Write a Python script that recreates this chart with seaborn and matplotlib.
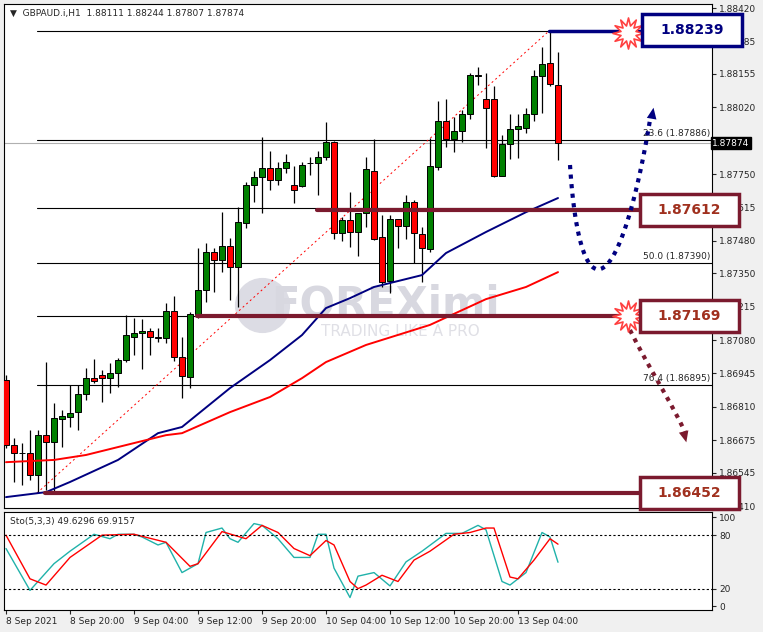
import matplotlib
matplotlib.use("Agg")
import matplotlib.pyplot as plt
import seaborn as sns
import pandas as pd
import numpy as np
from matplotlib.patches import Rectangle

sns.set_style("white")
plt.rcParams['font.family'] = ['DejaVu Sans']

opens = [1.86918,1.86656,1.86624,1.86624,1.86535,1.86696,1.86668,1.86761,1.86769,1.86789,
 1.86862,1.86926,1.86939,1.86926,1.86947,1.86999,1.87092,1.87108,1.87116,1.87092,
 1.87088,1.87197,1.87011,1.86930,1.87185,1.87282,1.87435,1.87403,1.87459,1.87374,
 1.87552,1.87705,1.87738,1.87774,1.87726,1.87774,1.87705,1.87701,1.87794,1.87794,
 1.87818,1.87879,1.87512,1.87564,1.87516,1.87592,1.87762,1.87495,1.87318,1.87568,
 1.87540,1.87637,1.87508,1.87447,1.87778,1.87964,1.87891,1.87923,1.87992,1.88145,
 1.88052,1.88052,1.87742,1.87871,1.87931,1.87935,1.87992,1.88145,1.88198,1.88111]
highs = [1.86939,1.86684,1.86664,1.86717,1.86717,1.86991,1.86826,1.86797,1.86898,1.86898,
 1.86967,1.87003,1.86959,1.86987,1.87007,1.87181,1.87169,1.87165,1.87128,1.87128,
 1.87229,1.87257,1.87092,1.87193,1.87451,1.87471,1.87451,1.87596,1.87491,1.87616,
 1.87717,1.87762,1.87899,1.87843,1.87798,1.87831,1.87782,1.87798,1.87818,1.87843,
 1.87960,1.87883,1.87576,1.87677,1.87592,1.87818,1.87891,1.87584,1.87584,1.87568,
 1.87665,1.87645,1.87536,1.87895,1.88044,1.88052,1.87980,1.88008,1.88157,1.88182,
 1.88157,1.88105,1.87907,1.87992,1.87992,1.88016,1.88170,1.88262,1.88327,1.88244]
lows = [1.86644,1.86507,1.86495,1.86515,1.86462,1.86474,1.86462,1.86648,1.86729,1.86717,
 1.86838,1.86906,1.86830,1.86866,1.86890,1.86991,1.87019,1.86963,1.87019,1.87072,
 1.87068,1.86995,1.86846,1.86886,1.87169,1.87233,1.87274,1.87354,1.87241,1.87213,
 1.87532,1.87637,1.87592,1.87685,1.87705,1.87754,1.87633,1.87697,1.87746,1.87665,
 1.87806,1.87487,1.87479,1.87455,1.87419,1.87536,1.87483,1.87294,1.87270,1.87451,
 1.87487,1.87391,1.87314,1.87435,1.87766,1.87859,1.87839,1.87879,1.87972,1.88109,
 1.87855,1.87738,1.87742,1.87810,1.87814,1.87915,1.87964,1.87996,1.88105,1.87807]
closes = [1.86656,1.86624,1.86624,1.86535,1.86696,1.86668,1.86765,1.86773,1.86785,1.86862,
 1.86926,1.86914,1.86926,1.86947,1.86999,1.87100,1.87108,1.87116,1.87092,1.87088,
 1.87197,1.87011,1.86935,1.87185,1.87282,1.87435,1.87403,1.87459,1.87374,1.87556,
 1.87705,1.87738,1.87774,1.87726,1.87774,1.87798,1.87685,1.87786,1.87794,1.87818,
 1.87879,1.87512,1.87564,1.87516,1.87592,1.87770,1.87487,1.87314,1.87568,1.87540,
 1.87637,1.87512,1.87451,1.87782,1.87964,1.87891,1.87923,1.87992,1.88149,1.88149,
 1.88016,1.87742,1.87871,1.87931,1.87943,1.87992,1.88145,1.88194,1.88113,1.87874]

ma_blue_idx = [0,5,8,14,19,22,28,33,37,40,43,46,52,55,60,65,69]
ma_blue = [1.86446,1.86466,1.86507,1.86596,1.86704,1.86729,1.86886,1.86999,1.87100,1.87209,
           1.87249,1.87294,1.87342,1.87431,1.87516,1.87596,1.87653]
ma_red_idx = [0,6,10,16,20,22,28,33,37,40,45,53,60,65,69]
ma_red = [1.86587,1.86596,1.86616,1.86664,1.86696,1.86704,1.86789,1.86850,1.86926,1.86991,
          1.87060,1.87141,1.87245,1.87294,1.87354]

sto_main_idx = [0,3,6,8,11,13,14,16,17,19,20,22,24,25,27,28,29,31,32,34,36,38,39,40,41,43,44,46,48,50,52,55,57,59,60,62,63,65,67,68,69]
sto_main = [65,18,48,62,81,76,81,81,78,69,72,38,48,83,88,76,72,93,91,76,55,55,81,81,43,10,34,38,23,50,62,82,82,91,86,28,24,38,83,78,49.6]
sto_sig_idx = [0,3,5,8,12,16,20,23,24,27,30,32,34,36,38,40,41,43,44,45,47,49,51,53,56,58,60,61,63,64,66,68,69]
sto_sig = [80,31,24,55,80,81,72,45,48,84,76,91,83,65,57,74,69,28,20,24,35,28,52,62,81,83,88,88,33,31,52,76,69.9]

time_labels = ["8 Sep 2021","8 Sep 20:00","9 Sep 04:00","9 Sep 12:00","9 Sep 20:00",
               "10 Sep 04:00","10 Sep 12:00","10 Sep 20:00","13 Sep 04:00"]
price_ticks = [1.88420,1.88285,1.88155,1.88020,1.87750,1.87615,1.87480,1.87350,1.87215,
               1.87080,1.86945,1.86810,1.86675,1.86545,1.86410]

W, H = 763, 632
fig = plt.figure(figsize=(W/100, H/100), dpi=100)
fig.patch.set_facecolor('#f0f0f0')

def py(y): return 1.884523 - 0.00004036*y
def px(x): return (x-6)/8

def fr(l, t, r, b):
    return [l/W, 1-b/H, (r-l)/W, (b-t)/H]

ax = fig.add_axes(fr(4, 4, 712, 508))
ax.set_facecolor('white')
ax.set_xlim(px(4), px(712)); ax.set_ylim(py(508), py(4))
fs = 6.5

# watermark
ax.scatter([px(262)], [py(305)], s=1500, color='#dcdce4', zorder=0)
ax.text(px(385), py(305), "FOREXimi", fontsize=30, fontweight='bold', color='#d8d8e0', ha='center', va='center', zorder=0)
ax.text(px(400), py(332), "TRADING LIKE A PRO", fontsize=11, color='#e0e0e6', ha='center', va='center', zorder=0)

# horizontal lines
for yy in [140, 208, 263, 316, 385]:
    ax.plot([px(37), px(712)], [py(yy)]*2, color='black', lw=0.8, zorder=1)
ax.plot([px(37), px(549)], [py(31)]*2, color='black', lw=0.8, zorder=1)
ax.plot([px(0), px(712)], [py(143)]*2, color='#b0b0b0', lw=0.8, zorder=1)
ax.plot([px(37), px(549)], [py(493), py(31)], color='red', lw=0.7, ls=(0, (2, 3)), zorder=1)

for lbl, yy in [("23.6 (1.87886)", 140), ("50.0 (1.87390)", 263), ("76.4 (1.86895)", 385)]:
    ax.text(px(710), py(yy-2), lbl, fontsize=fs, ha='right', va='bottom', zorder=2)

# candles
idx = np.arange(len(opens))
df = pd.DataFrame({'i': idx, 'o': opens, 'h': highs, 'l': lows, 'c': closes})
ax.vlines(df.i, df.l, df.h, color='black', lw=0.9, zorder=3)
for _, r in df.iterrows():
    col = '#008000' if r.c >= r.o else '#ff0000'
    bot, top = min(r.o, r.c), max(r.o, r.c)
    hgt = max(top-bot, 0.00002)
    ax.add_patch(Rectangle((r.i-0.38, bot), 0.76, hgt, facecolor=col, edgecolor='black', lw=0.7, zorder=4))

sns.lineplot(x=ma_blue_idx, y=ma_blue, ax=ax, color='#000080', lw=1.4, zorder=5)
sns.lineplot(x=ma_red_idx, y=ma_red, ax=ax, color='#ff0000', lw=1.4, zorder=5)

# level lines
maroon = '#7b1a2e'
ax.plot([px(317), px(640)], [py(210)]*2, color=maroon, lw=3, zorder=6)
ax.plot([px(197), px(640)], [py(316)]*2, color=maroon, lw=3, zorder=6)
ax.plot([px(45), px(640)], [py(493)]*2, color=maroon, lw=3, zorder=6)
ax.plot([px(549), px(642)], [py(31)]*2, color='#000080', lw=2.5, zorder=6)

# dotted arrows
t = np.linspace(0, 1, 60)
def bez(p0, p1, p2, p3):
    return [(1-t)**3*a + 3*(1-t)**2*t*b + 3*(1-t)*t**2*c + t**3*d for a, b, c, d in zip(p0, p1, p2, p3)]
bx, by = bez((570, 165), (580, 320), (620, 300), (650, 120))
ax.plot([px(v) for v in bx], [py(v) for v in by], color='#000080', lw=3, ls=(0, (1, 1.3)), zorder=7)
ax.annotate("", xy=(px(654), py(105)), xytext=(px(650), py(128)),
            arrowprops=dict(arrowstyle='-|>,head_width=0.35,head_length=0.8', color='#000080', lw=0), zorder=7)
mx, my = bez((630, 330), (650, 370), (670, 400), (685, 432))
ax.plot([px(v) for v in mx], [py(v) for v in my], color=maroon, lw=3, ls=(0, (1, 1.3)), zorder=7)
ax.annotate("", xy=(px(687), py(445)), xytext=(px(682), py(425)),
            arrowprops=dict(arrowstyle='-|>,head_width=0.35,head_length=0.8', color=maroon, lw=0), zorder=7)

# starbursts
ax.scatter([px(628), px(628)], [py(33), py(316)], marker=(12, 1, 0), s=500, facecolor='white', edgecolor='#ff4040', lw=1.2, zorder=8, clip_on=False)

# boxes
def box(l, t, r, b, txt, ec, tc):
    ax.add_patch(Rectangle((px(l), py(b)), px(r)-px(l), py(t)-py(b), facecolor='white', edgecolor=ec, lw=2.5, zorder=9, clip_on=False))
    ax.text((px(l)+px(r))/2, (py(t)+py(b))/2, txt, fontsize=10, fontweight='bold', color=tc, ha='center', va='center', zorder=10, clip_on=False)
box(642, 14, 742, 46, "1.88239", '#000080', '#000080')
box(640, 194, 739, 226, "1.87612", maroon, '#a0301e')
box(640, 300, 739, 332, "1.87169", maroon, '#a0301e')
box(640, 477, 739, 509, "1.86452", maroon, '#a0301e')

ax.yaxis.tick_right()
ax.set_yticks(price_ticks)
ax.set_yticklabels([f"{v:.5f}" for v in price_ticks], fontsize=fs)
ax.tick_params(axis='y', length=3, pad=2, right=True, direction='out')
ax.set_xticks([])
ax.text(1.0, (1.87874-py(508))/(py(4)-py(508)), "1.87874", transform=ax.transAxes, fontsize=fs, color='white',
        ha='left', va='center', bbox=dict(facecolor='black', edgecolor='black', pad=1), zorder=11, clip_on=False)
ax.text(0.008, 0.99, "▼  GBPAUD.i,H1  1.88111 1.88244 1.87807 1.87874", transform=ax.transAxes, fontsize=fs, va='top', zorder=11)
for s in ax.spines.values():
    s.set_color('black'); s.set_linewidth(0.8)

# stochastic panel
ax2 = fig.add_axes(fr(4, 512, 712, 610))
ax2.set_facecolor('white')
ax2.set_xlim(px(4), px(712)); ax2.set_ylim(-4, 106)
sns.lineplot(x=sto_main_idx, y=sto_main, ax=ax2, color='#20b2aa', lw=1.0)
sns.lineplot(x=sto_sig_idx, y=sto_sig, ax=ax2, color='#ff0000', lw=1.0)
for v in [80, 20]:
    ax2.axhline(v, color='black', lw=0.8, ls=(0, (2, 2)))
ax2.yaxis.tick_right()
ax2.set_yticks([100, 80, 20, 0]); ax2.set_yticklabels(['100', '80', '20', '0'], fontsize=fs)
ax2.tick_params(axis='y', length=3, pad=2)
ax2.set_xticks(np.arange(0, 72, 8))
ax2.set_xticklabels(time_labels, fontsize=fs, ha='left')
ax2.tick_params(axis='x', length=3, pad=2, bottom=True)
ax2.text(0.008, 0.95, "Sto(5,3,3) 49.6296 69.9157", transform=ax2.transAxes, fontsize=fs, va='top')
for s in ax2.spines.values():
    s.set_color('black'); s.set_linewidth(0.8)

fig.savefig("out.png", dpi=100, facecolor=fig.get_facecolor())
